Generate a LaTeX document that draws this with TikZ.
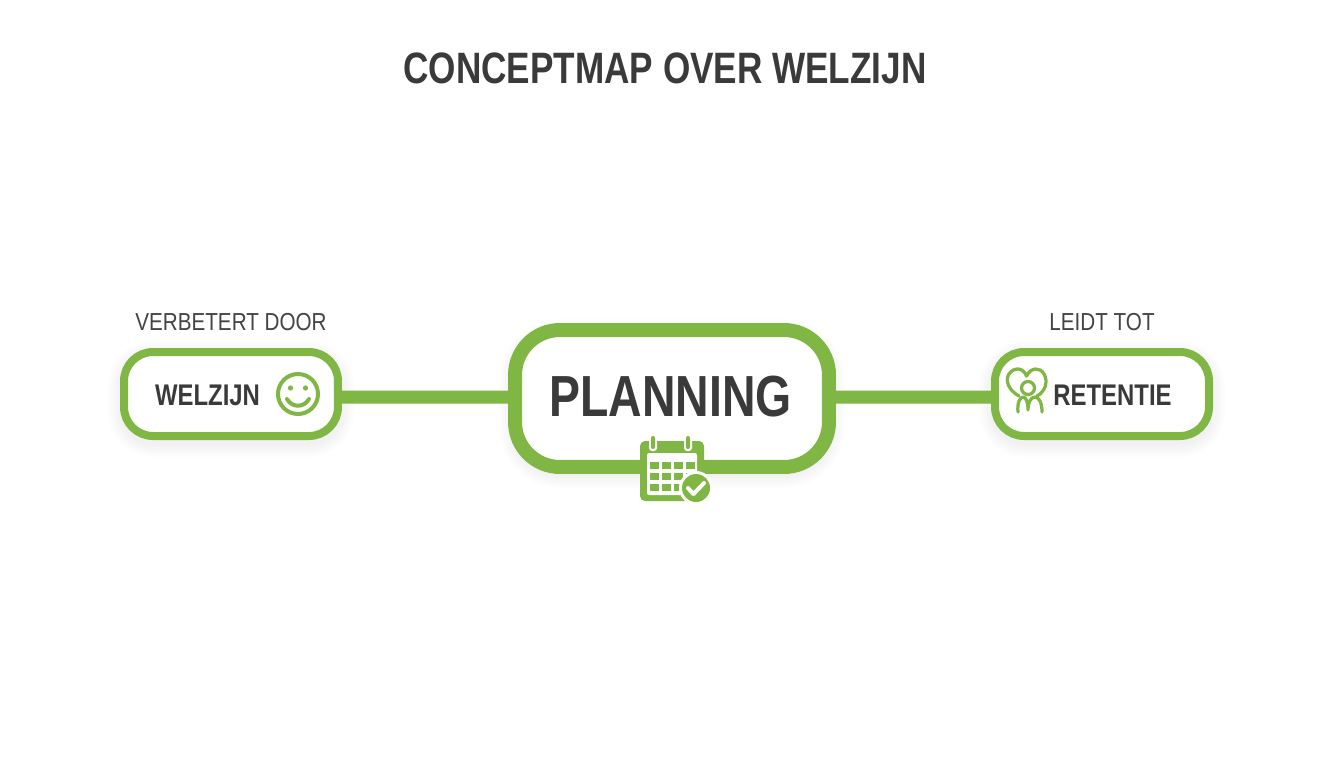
\documentclass[tikz,border=0pt]{standalone}
\usepackage{fontspec}
\setmainfont{Liberation Sans}
\newfontfamily\labelfont[FakeStretch=0.84]{Liberation Sans}
\newfontfamily\boldfont[FakeStretch=0.8]{Liberation Sans Bold}
\definecolor{leafgreen}{HTML}{80B644}
\definecolor{inkgray}{HTML}{3B3A3A}
\tikzset{
    softring/.style={preaction={draw=black, draw opacity=0.008, fill=none, line width=#1, transform canvas={yshift=-0.1cm}}},
    softshadow/.style={softring=0.64cm, softring=0.56cm, softring=0.48cm, softring=0.4cm, softring=0.32cm, softring=0.24cm, softring=0.16cm},
    conceptbox/.style={draw=leafgreen, fill=white, line width=0.16cm, rounded corners=0.58cm,
        minimum width=4.28cm, minimum height=1.68cm, inner sep=0pt, softshadow},
    centerbox/.style={conceptbox, line width=0.28cm, rounded corners=0.9cm,
        minimum width=6.28cm, minimum height=2.74cm},
    linkline/.style={leafgreen, line width=0.26cm},
    boxtext/.style={inkgray, font=\boldfont\fontsize{17}{19}\selectfont},
    toptext/.style={inkgray!95, font=\labelfont\fontsize{14}{16}\selectfont},
    iconline/.style={leafgreen, line width=0.08cm, line cap=round, line join=round},
}
\begin{document}
\begin{tikzpicture}[x=0.02cm, y=-0.02cm]
    \useasboundingbox[fill=white] (0,0) rectangle (1344,768);

    \node[inkgray, font=\boldfont\fontsize{25}{30}\selectfont] (title) at (665,68) {CONCEPTMAP OVER WELZIJN};

    % the three boxes
    \node[conceptbox] (wbox) at (231,394) {};
    \node[centerbox] (pbox) at (672,398.5) {};
    \node[conceptbox] (rbox) at (1102,394) {};

    \draw[linkline] ([yshift=-0.06cm]wbox.east) -- ([yshift=0.03cm]pbox.west);
    \draw[linkline] ([yshift=0.03cm]pbox.east) -- ([yshift=-0.06cm]rbox.west);

    \node[toptext] (wtop) at (231,322) {VERBETERT DOOR};
    \node[toptext] (rtop) at (1102,322) {LEIDT TOT};
    \node[boxtext] (wtext) at (207.5,395) {WELZIJN};
    \node[boxtext] (rtext) at (1112.5,395) {RETENTIE};
    \node[inkgray, font=\boldfont\fontsize{33}{38}\selectfont] (ptext) at (670.5,397) {PLANNING};

    % smiley
    \draw[iconline] (298,394) circle (20);
    \fill[leafgreen] (290.5,388) circle (2.6) (305.5,388) circle (2.6);
    \draw[iconline] (287,399) .. controls (292,408) and (304,408) .. (309,399);

    % calendar
    \fill[leafgreen, rounded corners=0.1cm] (640,441) rectangle (704,501);
    \fill[white, rounded corners=0.04cm] (647,453) rectangle (697,495);
    \foreach \colx in {650,662,674,686}
        \foreach \rowy in {462,473,484}
            \fill[leafgreen] (\colx,\rowy) rectangle +(8.5,7);
    \foreach \ringx in {653,688} {
        \fill[white, rounded corners=0.06cm] (\ringx-4,434) rectangle (\ringx+4,451);
        \fill[leafgreen, rounded corners=0.04cm] (\ringx-2,436) rectangle (\ringx+2,449);
    }
    \fill[white] (696,488) circle (17);
    \fill[leafgreen] (696,488) circle (14);
    \draw[white, line width=0.08cm, line cap=round, line join=round] (688,488) -- (693.5,494) -- (704,483);

    % heart and person
    \draw[iconline, line width=0.065cm] (1019,396) .. controls (1008,390) and (1005,380) .. (1009,374)
        .. controls (1014,367) and (1023,367) .. (1026.5,376)
        .. controls (1031,367) and (1040,367) .. (1044,374)
        .. controls (1048,381) and (1046,391) .. (1037,396);
    \draw[iconline, line width=0.065cm] (1028,388) circle (6.5);
    \draw[iconline, line width=0.065cm] (1018,412) .. controls (1017,403) and (1020,397) .. (1023,397)
        .. controls (1026,397) and (1028,402) .. (1028,410)
        .. controls (1028,402) and (1031,397) .. (1035,397)
        .. controls (1039,397) and (1042,403) .. (1042,412);
\end{tikzpicture}
\end{document}
